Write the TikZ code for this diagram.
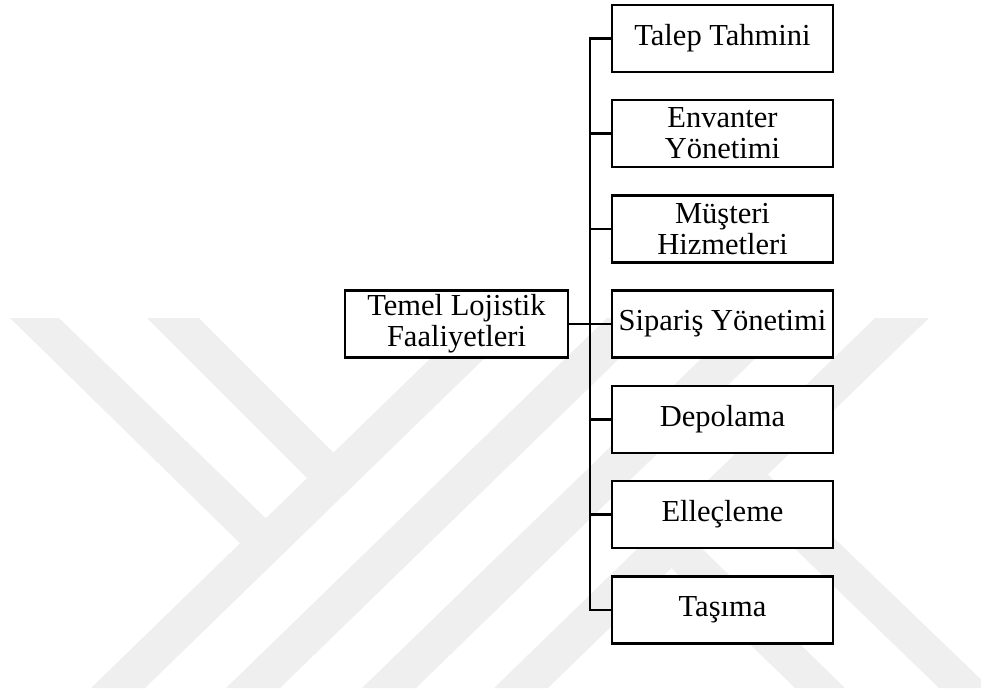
\documentclass[tikz,border=0pt]{standalone}
\usepackage{fontspec}
\setmainfont{Liberation Serif}
\usetikzlibrary{%
  calc%
}
\definecolor{wmgray}{RGB}{239,239,239}
\tikzset{>=latex}
\tikzset{activity/.style = {draw, line width=1.6pt, fill=white, align=center,
	    minimum width=5.525cm, minimum height=1.675cm, inner sep=0.5pt,
	    font=\fontsize{21.7}{22}\selectfont},%
		branch/.style={line width=1.6pt},%
		watermark/.style={fill=wmgray, draw=none}}

\begin{document}
\begin{tikzpicture}[x=0.025cm,y=-0.025cm]
          \useasboundingbox (0,0) rectangle (981,693);
          \begin{scope}
          \clip (0,0) rectangle (981,693);
          \fill[watermark] (91,688) -- (145,688) -- (526,318) -- (472,318) -- cycle;
          \fill[watermark] (226,688) -- (280,688) -- (661,318) -- (607,318) -- cycle;
          \fill[watermark] (362,688) -- (416,688) -- (797,318) -- (743,318) -- cycle;
          \fill[watermark] (494,688) -- (548,688) -- (929,318) -- (875,318) -- cycle;
          \fill[watermark] (10,318) -- (59,318) -- (280,532) -- (254,557) -- cycle;
          \fill[watermark] (147,318) -- (199,318) -- (345,464) -- (318,489) -- cycle;
          \fill[watermark] (795,688) -- (845,688) -- (685,532) -- (660,557) -- cycle;
          \fill[watermark] (939,688) -- (990,688) -- (755,462) -- (730,486) -- cycle;
          \end{scope}
          \node[activity, minimum width=5.575cm] (temel) at (456.5,324)
          {Temel Lojistik\\Faaliyetleri};
          \node[activity] (talep) at (722.5,38.5) {Talep Tahmini};
          \node[activity] (envanter) at (722.5,133.5) {Envanter\\Yönetimi};
          \node[activity] (musteri) at (722.5,229) {Müşteri\\Hizmetleri};
          \node[activity] (siparis) at (722.5,324) {Sipariş Yönetimi};
          \node[activity] (depolama) at (722.5,419.5) {Depolama};
          \node[activity] (elleclem) at (722.5,514.5) {Elleçleme};
          \node[activity] (tasima) at (722.5,610) {Taşıma};
          \coordinate (trunk) at (590,324);
          \draw[branch] (talep.west) -| (trunk) |- (tasima.west);
          \draw[branch] (temel.east) -- (siparis.west);
          \draw[branch] (envanter.west) -- (envanter.west -| trunk);
          \draw[branch] (musteri.west) -- (musteri.west -| trunk);
          \draw[branch] (depolama.west) -- (depolama.west -| trunk);
          \draw[branch] (elleclem.west) -- (elleclem.west -| trunk);
        \end{tikzpicture}
\end{document}
